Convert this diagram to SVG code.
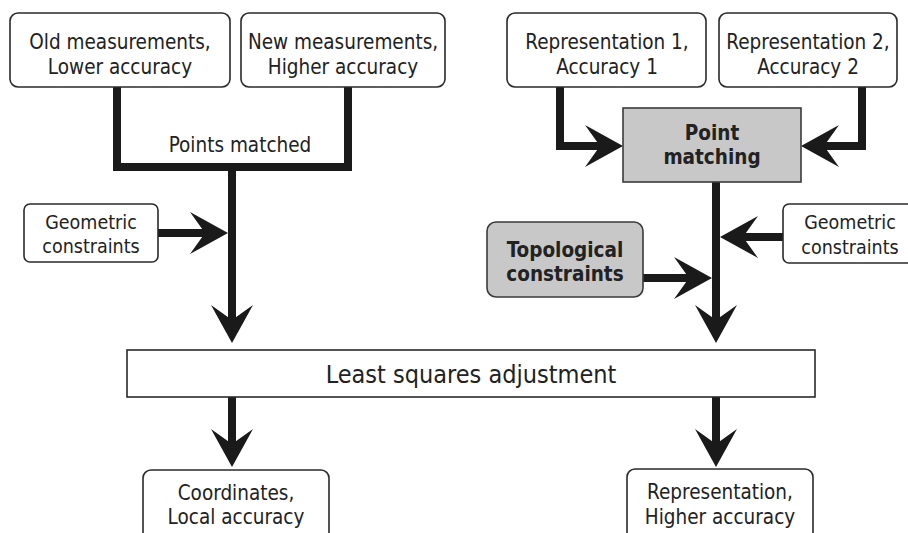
<svg xmlns="http://www.w3.org/2000/svg" width="908" height="533" viewBox="0 0 908 533">
  <style>
    .box { fill: #ffffff; stroke: #2a2a2a; stroke-width: 1.6; }
    .grey { fill: #c8c8c8; stroke: #3a3a3a; stroke-width: 1.6; }
    .t { font-family: "DejaVu Sans Condensed", "DejaVu Sans", sans-serif; font-stretch: condensed; fill: #222222; text-anchor: middle; }
    .n { font-size: 20.5px; }
    .s { font-size: 19.5px; }
    .b { font-size: 20.5px; font-weight: bold; }
    .big { font-size: 25px; }
    .wire { fill: none; stroke: #1a1a1a; stroke-width: 8; stroke-linejoin: miter; }
    .arrow { fill: none; stroke: #1a1a1a; stroke-width: 8; marker-end: url(#head); }
  </style>
  <defs>
    <!-- swept arrowhead; the line ends 20px behind the tip -->
    <marker id="head" viewBox="0 0 38 44" refX="18" refY="22" markerWidth="38" markerHeight="44" markerUnits="userSpaceOnUse" orient="auto">
      <path d="M38,22 L0,1 L15,22 L0,43 Z" fill="#1a1a1a"/>
    </marker>
  </defs>

  <rect width="908" height="533" fill="#ffffff"/>

  <!-- connectors -->
  <g id="connectors">
    <path class="wire" d="M117,87 V167 H348 V87"/>
    <path class="arrow" d="M232,167 V323"/>
    <path class="arrow" d="M158,233 H208"/>
    <path class="arrow" d="M232,397 V447"/>
    <path class="arrow" d="M560,87 V146 H603"/>
    <path class="arrow" d="M862,87 V146 H821"/>
    <path class="arrow" d="M716,182 V323"/>
    <path class="arrow" d="M783,237 H740"/>
    <path class="arrow" d="M643,278 H692"/>
    <path class="arrow" d="M716,397 V447"/>
  </g>

  <text class="t n" x="240" y="152">Points matched</text>

  <g id="old-measurements">
    <rect class="box" x="10" y="13" width="220" height="74" rx="8"/>
    <text class="t n" x="120" y="49">Old measurements,</text>
    <text class="t n" x="120" y="74">Lower accuracy</text>
  </g>

  <g id="new-measurements">
    <rect class="box" x="241" y="13" width="204" height="74" rx="8"/>
    <text class="t n" x="343" y="49">New measurements,</text>
    <text class="t n" x="343" y="74">Higher accuracy</text>
  </g>

  <g id="representation-1">
    <rect class="box" x="507" y="13" width="199" height="74" rx="8"/>
    <text class="t n" x="607" y="49">Representation 1,</text>
    <text class="t n" x="607" y="74">Accuracy 1</text>
  </g>

  <g id="representation-2">
    <rect class="box" x="719" y="13" width="178" height="74" rx="8"/>
    <text class="t n" x="808" y="49">Representation 2,</text>
    <text class="t n" x="808" y="74">Accuracy 2</text>
  </g>

  <g id="point-matching">
    <rect class="grey" x="623" y="108" width="178" height="74"/>
    <text class="t b" x="712" y="140">Point</text>
    <text class="t b" x="712" y="164">matching</text>
  </g>

  <g id="geometric-left">
    <rect class="box" x="24" y="204" width="134" height="58" rx="6"/>
    <text class="t s" x="91" y="229">Geometric</text>
    <text class="t s" x="91" y="253">constraints</text>
  </g>

  <g id="geometric-right">
    <rect class="box" x="783" y="204" width="135" height="59" rx="6"/>
    <text class="t s" x="850" y="229">Geometric</text>
    <text class="t s" x="850" y="254">constraints</text>
  </g>

  <g id="topological">
    <rect class="grey" x="487" y="222" width="156" height="75" rx="9"/>
    <text class="t b" x="565" y="257">Topological</text>
    <text class="t b" x="565" y="281">constraints</text>
  </g>

  <g id="least-squares">
    <rect class="box" x="127" y="350" width="688" height="47"/>
    <text class="t big" x="471" y="383">Least squares adjustment</text>
  </g>

  <g id="coordinates">
    <rect class="box" x="143" y="470" width="186" height="80" rx="8"/>
    <text class="t n" x="236" y="500">Coordinates,</text>
    <text class="t n" x="236" y="524">Local accuracy</text>
  </g>

  <g id="representation-out">
    <rect class="box" x="627" y="469" width="186" height="80" rx="8"/>
    <text class="t n" x="720" y="499">Representation,</text>
    <text class="t n" x="720" y="524">Higher accuracy</text>
  </g>
</svg>
